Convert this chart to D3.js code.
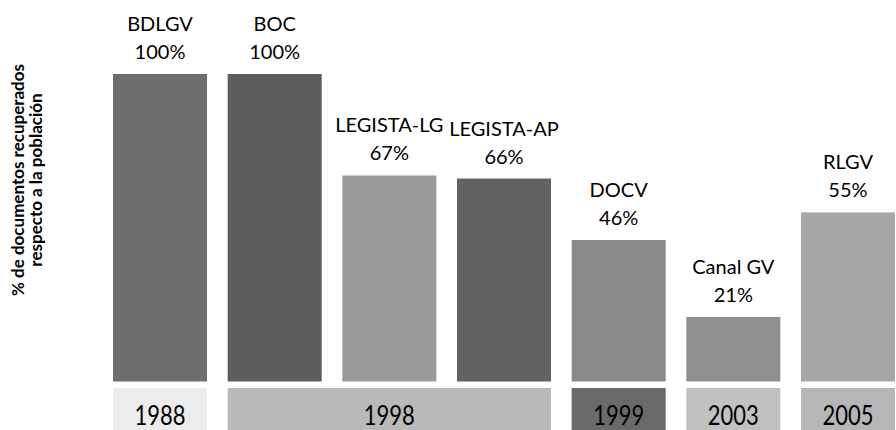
<!DOCTYPE html>
<html>
<head>
<meta charset="utf-8">
<script src="https://cdn.jsdelivr.net/npm/d3@7"></script>
<style>
  body { margin: 0; background: #fff; }
  text { font-family: Lato, "Open Sans", sans-serif; fill: #000; }
</style>
</head>
<body>
<div id="chart"></div>
<script>
// data
const sources = ["BDLGV", "BOC", "LEGISTA-LG", "LEGISTA-AP", "DOCV", "Canal GV", "RLGV"];
const recovered = [100, 100, 67, 66, 46, 21, 55];
const barColors = ["#6e6e6e", "#5d5d5d", "#9a9a9a", "#626262", "#8a8a8a", "#909090", "#a6a6a6"];

// year boxes under the bars: first and last source covered
const years = ["1988", "1998", "1999", "2003", "2005"];
const yearFirst = ["BDLGV", "BOC", "DOCV", "Canal GV", "RLGV"];
const yearLast = ["BDLGV", "LEGISTA-AP", "DOCV", "Canal GV", "RLGV"];
const yearColors = ["#ececec", "#b9b9b9", "#6a6a6a", "#c1c1c1", "#b6b6b6"];

const yTitle = ["% de documentos  recuperados", "respecto a la población"];

const width = 896, height = 430;

const svg = d3.select("#chart").append("svg")
    .attr("width", width)
    .attr("height", height);

// scales
const x = d3.scaleBand()
    .domain(sources)
    .range([113, 895])
    .paddingInner(0.18)
    .paddingOuter(0);

const y = d3.scaleLinear()
    .domain([0, 100])
    .range([381.5, 74]);

// bars
svg.append("g")
    .selectAll("rect")
    .data(sources)
    .enter()
    .append("rect")
        .attr("x", d => x(d))
        .attr("y", (d, i) => y(recovered[i]))
        .attr("width", x.bandwidth())
        .attr("height", (d, i) => y(0) - y(recovered[i]))
        .style("fill", (d, i) => barColors[i]);

// labels above bars (name + percent)
const labels = svg.append("g")
    .selectAll("text")
    .data(sources)
    .enter()
    .append("text")
        .attr("text-anchor", "middle")
        .attr("font-size", 20)
        .attr("x", d => x(d) + x.bandwidth() / 2);

labels.append("tspan")
    .attr("x", d => x(d) + x.bandwidth() / 2)
    .attr("y", (d, i) => y(recovered[i]) - 43)
    .text(d => d);

labels.append("tspan")
    .attr("x", d => x(d) + x.bandwidth() / 2)
    .attr("y", (d, i) => y(recovered[i]) - 15)
    .text((d, i) => recovered[i] + "%");

// year boxes
const yearG = svg.append("g")
    .selectAll("g")
    .data(years)
    .enter()
    .append("g");

yearG.append("rect")
    .attr("x", (d, i) => x(yearFirst[i]))
    .attr("y", 388)
    .attr("width", (d, i) => x(yearLast[i]) + x.bandwidth() - x(yearFirst[i]))
    .attr("height", 42)
    .style("fill", (d, i) => yearColors[i]);

yearG.append("text")
    .attr("text-anchor", "middle")
    .attr("font-size", 22)
    .attr("transform", (d, i) => {
        const cx = (x(yearFirst[i]) + x(yearLast[i]) + x.bandwidth()) / 2;
        return "translate(" + cx + ",425) scale(1,1.2)";
    })
    .text(d => d);

// y axis title (two lines, rotated)
svg.append("text")
    .attr("text-anchor", "middle")
    .attr("font-size", 17)
    .attr("font-weight", "bold")
    .attr("transform", "translate(24,180) rotate(-90)")
    .selectAll("tspan")
    .data(yTitle)
    .enter()
    .append("tspan")
        .attr("x", 0)
        .attr("y", (d, i) => i * 18)
        .text(d => d);
</script>
</body>
</html>
